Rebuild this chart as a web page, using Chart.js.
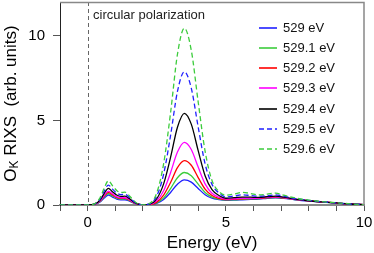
<!DOCTYPE html>
<html>
<head>
<meta charset="utf-8">
<script src="https://cdn.jsdelivr.net/npm/chart.js@4/dist/chart.umd.min.js"></script>
<style>
html,body{margin:0;padding:0;background:#fff;}
canvas{display:block;}
</style>
</head>
<body>
<canvas id="c" width="374" height="253"></canvas>
<script>
// ---- data ----
const energy = [-1, 0, 0.25, 0.45, 0.6, 0.75, 0.9, 1.05, 1.2, 1.35, 1.5, 1.65, 1.8, 2.0,
  2.25, 2.5, 2.75, 3.0, 3.25, 3.5, 3.75, 4.0, 4.25, 4.5, 4.75,
  5.0, 5.3, 5.6, 5.9, 6.2, 6.5, 6.8, 7.1, 7.5, 8.0, 8.5, 9.0, 9.5, 10.0];

const s529_0 = [0,0,0.03,0.18,0.41,0.59,0.47,0.35,0.31,0.31,0.24,0.12,0.04,0.01,
  0.01,0.09,0.32,0.74,1.23,1.48,1.35,0.98,0.61,0.40,0.32,
  0.28,0.29,0.31,0.33,0.35,0.40,0.42,0.39,0.31,0.23,0.17,0.11,0.06,0.02];
const s529_1 = [0,0,0.03,0.2,0.48,0.68,0.54,0.41,0.35,0.36,0.27,0.14,0.04,0.01,
  0.02,0.12,0.42,0.97,1.61,1.92,1.73,1.23,0.74,0.47,0.35,
  0.3,0.31,0.34,0.36,0.37,0.42,0.44,0.41,0.32,0.24,0.17,0.11,0.06,0.02];
const s529_2 = [0,0,0.04,0.23,0.53,0.75,0.6,0.45,0.39,0.4,0.3,0.15,0.05,0.01,
  0.02,0.17,0.59,1.33,2.21,2.62,2.35,1.62,0.94,0.56,0.39,
  0.32,0.34,0.37,0.38,0.39,0.43,0.46,0.42,0.33,0.24,0.18,0.12,0.06,0.02];
const s529_3 = [0,0,0.04,0.25,0.57,0.82,0.66,0.49,0.43,0.43,0.33,0.16,0.05,0.01,
  0.04,0.25,0.84,1.91,3.13,3.7,3.28,2.24,1.25,0.69,0.46,
  0.35,0.37,0.4,0.4,0.41,0.45,0.48,0.43,0.34,0.25,0.18,0.12,0.06,0.02];
const s529_4 = [0,0,0.05,0.29,0.69,0.98,0.78,0.59,0.51,0.52,0.39,0.2,0.06,0.01,
  0.05,0.37,1.25,2.81,4.6,5.42,4.78,3.21,1.73,0.91,0.56,
  0.4,0.43,0.47,0.46,0.45,0.49,0.52,0.46,0.35,0.25,0.18,0.12,0.06,0.02];
const s529_5 = [0,0,0.06,0.35,0.83,1.18,0.94,0.71,0.61,0.63,0.47,0.24,0.07,0.01,
  0.08,0.53,1.83,4.1,6.71,7.88,6.91,4.61,2.43,1.22,0.71,
  0.48,0.53,0.6,0.56,0.52,0.55,0.6,0.52,0.38,0.27,0.19,0.12,0.06,0.02];
const s529_6 = [0,0,0.07,0.43,1.0,1.43,1.14,0.86,0.74,0.76,0.57,0.29,0.09,0.01,
  0.1,0.71,2.44,5.44,8.91,10.45,9.15,6.09,3.18,1.45,0.8,
  0.58,0.65,0.75,0.68,0.6,0.64,0.7,0.58,0.42,0.29,0.2,0.13,0.07,0.02];

const seriesLabels = ['529 eV','529.1 eV','529.2 eV','529.3 eV','529.4 eV','529.5 eV','529.6 eV'];
const seriesValues = [s529_0, s529_1, s529_2, s529_3, s529_4, s529_5, s529_6];
const xTickLabels = [0, 5, 10];
const yTickLabels = [0, 5, 10];
const markerEnergy = 0;
const annotationText = 'circular polarization';
const xTitle = 'Energy (eV)';
const yTitleMain = 'O';
const yTitleSub = 'K';
const yTitleRest = ' RIXS  (arb. units)';

// ---- styles ----
const colors = ['#1f1fff','#3ccc3c','#ff0000','#ff00ff','#000000','#1f1fff','#3ccc3c'];
const dashed = [false,false,false,false,false,true,true];
const FONT = "'Liberation Sans', Arial, Helvetica, sans-serif";
Chart.defaults.font.family = FONT;

const extras = {
  id: 'extras',
  beforeDatasetsDraw(chart) {
    const ctx = chart.ctx, a = chart.chartArea, xs = chart.scales.x;
    ctx.save();
    const px = Math.round(xs.getPixelForValue(markerEnergy)) + 0.5;
    ctx.strokeStyle = '#666';
    ctx.lineWidth = 1;
    ctx.setLineDash([4, 3]);
    ctx.beginPath();
    ctx.moveTo(px, a.top);
    ctx.lineTo(px, a.bottom);
    ctx.stroke();
    ctx.restore();
  },
  afterDraw(chart) {
    const ctx = chart.ctx, a = chart.chartArea;
    ctx.save();
    // top and right frame
    ctx.strokeStyle = '#888';
    ctx.lineWidth = 1.5;
    ctx.setLineDash([]);
    ctx.beginPath();
    ctx.moveTo(a.left, a.top + 0.5);
    ctx.lineTo(a.right, a.top + 0.5);
    ctx.lineTo(a.right, a.bottom);
    ctx.stroke();
    // annotation
    ctx.fillStyle = '#222';
    ctx.font = '13px ' + FONT;
    ctx.textBaseline = 'middle';
    ctx.textAlign = 'left';
    ctx.fillText(annotationText, a.left + 33, a.top + 13);
    // legend
    chart.data.datasets.forEach((ds, i) => {
      const y = Math.round(a.top + 25.5 + 20.3 * i);
      ctx.strokeStyle = ds.borderColor;
      ctx.lineWidth = 1.6;
      ctx.setLineDash(ds.borderDash && ds.borderDash.length ? [5, 3] : []);
      ctx.beginPath();
      ctx.moveTo(a.left + 199, y);
      ctx.lineTo(a.left + 217, y);
      ctx.stroke();
      ctx.setLineDash([]);
      ctx.fillStyle = '#111';
      ctx.fillText(ds.label, a.left + 223, y);
    });
    // x title
    ctx.textAlign = 'center';
    ctx.font = '17px ' + FONT;
    ctx.fillStyle = '#000';
    ctx.fillText(xTitle, (a.left + a.right) / 2, 243);
    // y title with subscript
    ctx.translate(11, (a.top + a.bottom) / 2);
    ctx.rotate(-Math.PI / 2);
    ctx.textAlign = 'left';
    const fMain = '17px ' + FONT, fSub = '12px ' + FONT;
    ctx.font = fMain; const w1 = ctx.measureText(yTitleMain).width;
    ctx.font = fSub; const w2 = ctx.measureText(yTitleSub).width;
    ctx.font = fMain; const w3 = ctx.measureText(yTitleRest).width;
    let x0 = -(w1 + w2 + w3) / 2;
    ctx.font = fMain; ctx.fillText(yTitleMain, x0, 0);
    ctx.font = fSub; ctx.fillText(yTitleSub, x0 + w1, 4);
    ctx.font = fMain; ctx.fillText(yTitleRest, x0 + w1 + w2, 0);
    ctx.restore();
  }
};

new Chart(document.getElementById('c').getContext('2d'), {
  type: 'line',
  data: {
    datasets: seriesValues.map((vals, i) => ({
      label: seriesLabels[i],
      data: energy.map((e, j) => ({ x: e, y: vals[j] })),
      borderColor: colors[i],
      borderWidth: 1.3,
      borderDash: dashed[i] ? [5, 3] : [],
      pointRadius: 0,
      fill: false,
      cubicInterpolationMode: 'monotone',
      order: 7 - i
    }))
  },
  options: {
    responsive: false,
    animation: false,
    devicePixelRatio: 1,
    layout: { padding: { left: 0, right: 10, top: 2, bottom: 0 } },
    plugins: { legend: { display: false }, tooltip: { enabled: false } },
    scales: {
      x: {
        type: 'linear', min: -1, max: 10,
        ticks: {
          stepSize: 1, autoSkip: false, maxRotation: 0, padding: 3,
          color: '#000', font: { size: 15 },
          callback: v => xTickLabels.includes(v) ? String(v) : ''
        },
        grid: { drawOnChartArea: false, drawTicks: true, tickLength: 6, color: '#555' },
        border: { color: '#888', width: 2 },
        afterFit(s) { s.height = 48; s.paddingLeft = 0; s.paddingRight = 0; }
      },
      y: {
        min: 0, max: 12,
        ticks: {
          stepSize: 5, includeBounds: false, padding: 8,
          color: '#000', font: { size: 15 },
          callback: v => yTickLabels.includes(v) ? String(v) : ''
        },
        grid: { drawOnChartArea: false, drawTicks: true, tickLength: 7, color: '#555' },
        border: { color: '#222', width: 1 },
        afterFit(s) { s.width = 60; s.paddingTop = 0; s.paddingBottom = 0; }
      }
    }
  },
  plugins: [extras]
});
</script>
</body>
</html>
